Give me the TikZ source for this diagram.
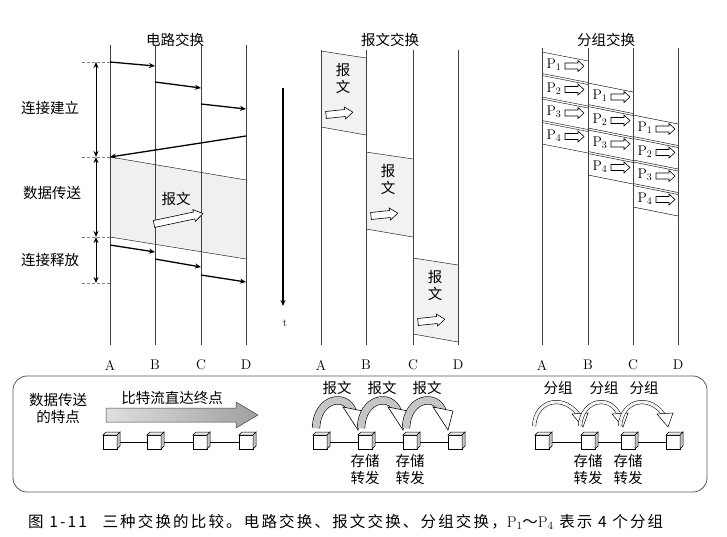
\documentclass[tikz,border=0pt]{standalone}
\usepackage{fontspec}
\newfontfamily\cjk{Noto Sans CJK SC}
\newfontfamily\cjkwide[LetterSpace=14]{Noto Sans CJK SC}
\usetikzlibrary{arrows.meta}
\begin{document}
\begin{tikzpicture}[x=1pt,y=-1pt,
  cn/.style={font=\cjk\fontsize{14.5}{17}\selectfont, inner sep=0pt},
  lat/.style={font=\rmfamily\fontsize{14}{15}\selectfont, inner sep=0pt},
  tl/.style={line width=0.6pt, black!75},
  sig/.style={line width=1.3pt, -{Stealth[length=6pt,width=5pt]}},
  pics/harrow/.style args={#1/#2/#3}{code={
    \draw[fill=white, line width=0.6pt] (0,-#2) -- (#1-#3,-#2) -- (#1-#3,-#2-2.5) -- (#1,0) -- (#1-#3,#2+2.5) -- (#1-#3,#2) -- (0,#2) -- cycle;}}]
\useasboundingbox (0,0) rectangle (727,536);
% ---------- titles
\node[cn] (t1) at (175,40) {电路交换};
\node[cn] (t2) at (390,40) {报文交换};
\node[cn] (t3) at (606,40) {分组交换};
% ---------- circuit switching
\fill[gray!12] (110,157) -- (246,180) -- (246,259) -- (110,237) -- cycle;
\draw[thin] (110,157) -- (246,180);
\draw[thin] (110,237) -- (246,259);
\foreach \x/\n in {110/A,155/B,201/C,246/D}{
  \draw[tl] (\x,45) -- (\x,345);
  \node[lat] at (\x,365) {\n};
}
\coordinate (a1) at (110,62); \coordinate (b1) at (155,66);
\coordinate (b2) at (155,82); \coordinate (c2) at (201,88);
\coordinate (c3) at (201,104); \coordinate (d3) at (246,109);
\coordinate (d4) at (246,136); \coordinate (a4) at (110,157);
\draw[sig] (a1) -- (b1); \draw[sig] (b2) -- (c2); \draw[sig] (c3) -- (d3); \draw[sig] (d4) -- (a4);
\coordinate (a5) at (110,245); \coordinate (b5) at (155,252);
\coordinate (b6) at (155,259); \coordinate (c6) at (201,267);
\coordinate (c7) at (201,275); \coordinate (d7) at (246,282);
\draw[sig] (a5) -- (b5); \draw[sig] (b6) -- (c6); \draw[sig] (c7) -- (d7);
\node[cn] (cm) at (176,199) {报文};
\pic[rotate=12] at (154,224) {harrow=50/3.5/9};
\foreach \y in {62,157,237,283}{\draw[gray, densely dashed, thin] (82,\y) -- (110,\y);}
\foreach \ya/\yb in {62/157,157/237,237/283}{
\draw[line width=0.9pt, {Stealth[length=6pt,width=5pt]}-{Stealth[length=6pt,width=5pt]}] (96,\ya) -- (96,\yb);}
\node[cn] (l1) at (50,108) {连接建立};
\node[cn] (l2) at (52,193) {数据传送};
\node[cn] (l3) at (50,260) {连接释放};
% ---------- message switching
\foreach \xa/\xb/\ya/\yb in {321/366/51/127, 366/413/152/229, 413/458/258/334}{
  \fill[gray!10] (\xa,\ya) -- (\xb,\ya+7) -- (\xb,\yb+8) -- (\xa,\yb) -- cycle;
  \draw[thin] (\xa,\ya) -- (\xb,\ya+7);
  \draw[thin] (\xa,\yb) -- (\xb,\yb+8);
  \node[cn, align=center] at (\xa+22,\ya+27) {报\\文};
  \pic[rotate=6] at (\xa+5,\ya+64) {harrow=27/3.5/8};
}
\foreach \x/\n in {321/A,366/B,413/C,458/D}{
  \draw[tl] (\x,50) -- (\x,345);
  \node[lat] at (\x,365) {\n};
}
\draw[line width=1.2pt, -{Stealth[length=6pt,width=5pt]}] (283,88) -- (283,306);
\node[lat, font=\rmfamily\fontsize{11}{12}\selectfont] (tt) at (285,323) {t};
% ---------- packet switching
\foreach \s/\xa/\xb/\base in {0/542/588/52, 1/588/633/83, 2/633/678/115}{
  \foreach \i in {1,...,4}{
    \pgfmathsetmacro{\ya}{\base+(\i-1)*23.5}
    \fill[white] (\xa,\ya) -- (\xb,\ya+9) -- (\xb,\ya+30.5) -- (\xa,\ya+21.5) -- cycle;
    \draw[thin] (\xa,\ya) -- (\xb,\ya+9) (\xb,\ya+30.5) -- (\xa,\ya+21.5);
    \node[lat, font=\rmfamily\fontsize{14}{15}\selectfont] at (\xa+12,\ya+13) {P$_{\i}$};
    \pic at (\xa+23,\ya+14) {harrow=19/3/6};
  }
}
\foreach \x/\n in {542/A,588/B,633/C,678/D}{
  \draw[tl] (\x,48) -- (\x,345);
  \node[lat] at (\x,365) {\n};
}
% ---------- bottom panel
\draw[line width=0.8pt, gray!70!black, rounded corners=14pt] (13,376) rectangle (707,492);
\node[cn, align=center] (feat) at (58,408) {数据传送\\的特点};
\node[cn] (bits) at (172,398) {比特流直达终点};
\shade[left color=gray!25, right color=gray!75, draw=gray!50!black, line width=0.5pt]
  (106,408) -- (236,408) -- (236,402) -- (258,415) -- (236,428) -- (236,422) -- (106,422) -- cycle;
% cubes
\tikzset{cubeshape/.pic={
  \draw[fill=white, line width=0.5pt] (-7,-7) rectangle (7,7);
  \draw[fill=gray!15, line width=0.5pt] (-7,-7) -- (-4,-10) -- (10,-10) -- (7,-7) -- cycle;
  \draw[fill=gray!45, line width=0.5pt] (7,-7) -- (10,-10) -- (10,4) -- (7,7) -- cycle;
}}
\foreach \x/\nm in {110/q1,154/q2,200/q3,246/q4, 320/r1,365/r2,410/r3,455/r4, 542/s1,588/s2,628/s3,673/s4}{
  \coordinate (\nm) at (\x,442);
}
\draw[thin] (q1) -- (q2) -- (q3) -- (q4);
\draw[thin] (r1) -- (r2) -- (r3) -- (r4);
\draw[thin] (s1) -- (s2) -- (s3) -- (s4);
\foreach \nm in {q1,q2,q3,q4,r1,r2,r3,r4,s1,s2,s3,s4}{ \pic at (\nm) {cubeshape}; }
% message arcs
\foreach \xa/\xb in {320/365,365/410,410/455}{
  \draw[line width=0.6pt, double=gray!45, double distance=7pt] (\xa-4,428) .. controls (\xa-3,398) and (\xa+26,392) .. (\xb-12,412);
  \draw[fill=white, line width=0.6pt] (\xb-22,407) -- (\xb-2,411) -- (\xb-7,430) -- cycle;
  \node[cn] at (\xa+17,388) {报文};
}
\foreach \nm in {r2,r3}{ \node[cn, align=center, below=12pt] at (\nm) {存储\\转发}; }
% packet arcs
\foreach \xa/\xb in {542/588,588/628,628/673}{
  \draw[line width=0.5pt, double=gray!10, double distance=3pt] (\xa-8,426) .. controls (\xa-6,398) and (\xa+24,394) .. (\xb-8,417);
  \draw[fill=white, line width=0.5pt] (\xb-16,414) -- (\xb,413) -- (\xb-5,427) -- cycle;
  \node[cn] at (\xa+16,388) {分组};
}
\foreach \nm in {s2,s3}{ \node[cn, align=center, below=12pt] at (\nm) {存储\\转发}; }
% caption
\node[cn, anchor=west, font=\cjkwide\fontsize{15.5}{17}\selectfont] (cap) at (28,522) {图 1-11\quad 三种交换的比较。电路交换、报文交换、分组交换，{\rmfamily P$_1$}～{\rmfamily P$_4$} 表示 4 个分组};
\end{tikzpicture}
\end{document}
